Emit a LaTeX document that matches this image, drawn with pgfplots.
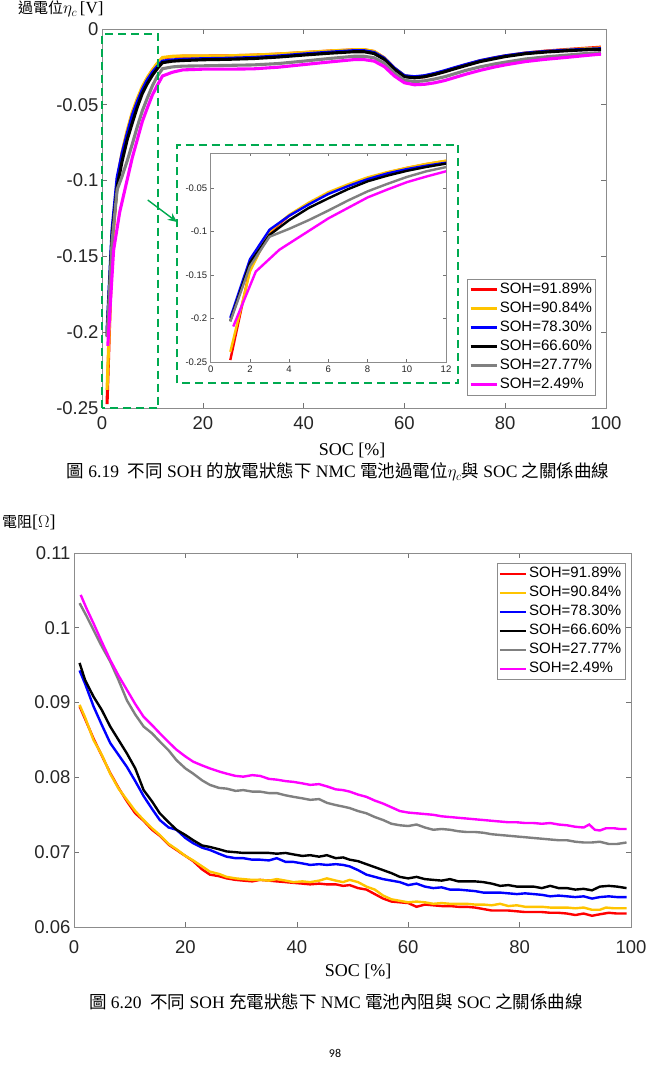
\documentclass[border=0pt]{standalone}
\usepackage{fontspec}
\setmainfont{Liberation Serif}
\newfontfamily\cjk{Noto Sans CJK TC}
\newfontfamily\arial{Liberation Sans}
\newfontfamily\calibri{Carlito}
\usepackage{pgfplots}
\usepackage{pgfplotstable}
\pgfplotsset{compat=1.18}
\usetikzlibrary{arrows.meta}

\definecolor{mred}{RGB}{255,0,0}
\definecolor{myel}{RGB}{255,196,0}
\definecolor{mblue}{RGB}{0,0,255}
\definecolor{mgray}{RGB}{128,128,128}
\definecolor{mmag}{RGB}{255,0,255}
\definecolor{mgreen}{RGB}{0,170,80}

% ---------- Fig 6.19 : overpotential vs SOC ----------
\pgfplotstableread{
x y
1 -0.2474
2 -0.143
3 -0.101
4 -0.082
5 -0.068
6 -0.056
7 -0.047
8 -0.039
9 -0.0325
10 -0.0272
11 -0.0228
12 -0.0192
14 -0.0183
16 -0.0180
20 -0.0179
25 -0.0177
30 -0.0173
35 -0.0166
40 -0.0156
45 -0.0146
50 -0.0138
52 -0.0137
54 -0.0149
56 -0.0191
58 -0.0259
60 -0.0310
62 -0.0320
64 -0.0314
66 -0.0298
68 -0.0279
70 -0.0259
72 -0.0239
75 -0.0211
78 -0.0190
80 -0.0178
84 -0.0159
88 -0.0146
92 -0.0136
96 -0.0127
99 -0.0120
}\topred
\pgfplotstableread{
x y
1 -0.238
2 -0.146
3 -0.100
4 -0.081
5 -0.067
6 -0.055
7 -0.046
8 -0.038
9 -0.032
10 -0.027
11 -0.0225
12 -0.0188
14 -0.0180
16 -0.0178
20 -0.0178
25 -0.0177
30 -0.0172
35 -0.0165
40 -0.0155
45 -0.0145
50 -0.0137
52 -0.0136
54 -0.0148
56 -0.0190
58 -0.0258
60 -0.0308
62 -0.0318
64 -0.0312
66 -0.0296
68 -0.0278
70 -0.0258
72 -0.0238
75 -0.0210
78 -0.0190
80 -0.0178
84 -0.0160
88 -0.0148
92 -0.0138
96 -0.0130
99 -0.0125
}\topyel
\pgfplotstableread{
x y
1 -0.199
2 -0.132
3 -0.098
4 -0.082
5 -0.069
6 -0.057
7 -0.048
8 -0.040
9 -0.0335
10 -0.0285
11 -0.0245
12 -0.0212
14 -0.0204
16 -0.0200
20 -0.0196
25 -0.0193
30 -0.0188
35 -0.0178
40 -0.0165
45 -0.0153
50 -0.0143
52 -0.0143
54 -0.0155
56 -0.0193
58 -0.0258
60 -0.0308
62 -0.0315
64 -0.0308
66 -0.0293
68 -0.0275
70 -0.0255
72 -0.0236
75 -0.0209
78 -0.0189
80 -0.0177
84 -0.0159
88 -0.0148
92 -0.0140
96 -0.0134
99 -0.0130
}\topblue
\pgfplotstableread{
x y
1 -0.2025
2 -0.136
3 -0.104
4 -0.087
5 -0.073
6 -0.062
7 -0.0515
8 -0.0425
9 -0.036
10 -0.0305
11 -0.026
12 -0.0222
14 -0.0212
16 -0.0208
20 -0.0203
25 -0.0200
30 -0.0195
35 -0.0185
40 -0.0172
45 -0.0160
50 -0.0150
52 -0.0150
54 -0.0162
56 -0.0200
58 -0.0265
60 -0.0315
62 -0.0322
64 -0.0315
66 -0.0300
68 -0.0282
70 -0.0262
72 -0.0243
75 -0.0215
78 -0.0195
80 -0.0182
84 -0.0163
88 -0.0152
92 -0.0144
96 -0.0137
99 -0.0134
}\topblack
\pgfplotstableread{
x y
1 -0.2033
2 -0.140
3 -0.106
4 -0.097
5 -0.087
6 -0.076
7 -0.0645
8 -0.054
9 -0.0455
10 -0.0375
11 -0.031
12 -0.0262
14 -0.0250
16 -0.0245
20 -0.0243
25 -0.0240
30 -0.0237
35 -0.0228
40 -0.0212
45 -0.0195
50 -0.0180
52 -0.0180
54 -0.0190
56 -0.0225
58 -0.0290
60 -0.0338
62 -0.0347
64 -0.0342
66 -0.0330
68 -0.0315
70 -0.0295
72 -0.0275
75 -0.0250
78 -0.0230
80 -0.0219
84 -0.0198
88 -0.0184
92 -0.0173
96 -0.0162
99 -0.0156
}\topgray
\pgfplotstableread{
x y
1.15 -0.209
2.3 -0.146
3.5 -0.121
4.7 -0.1037
6 -0.085
7 -0.073
8 -0.061
9 -0.052
10 -0.0435
11 -0.037
12 -0.031
14 -0.0285
16 -0.0270
20 -0.0265
25 -0.0265
30 -0.0263
35 -0.0252
40 -0.0235
45 -0.0218
50 -0.0202
52 -0.0202
54 -0.0212
56 -0.0248
58 -0.0310
60 -0.0355
62 -0.0368
64 -0.0365
66 -0.0355
68 -0.0340
70 -0.0320
72 -0.0300
75 -0.0273
78 -0.0250
80 -0.0237
84 -0.0215
88 -0.0200
92 -0.0188
96 -0.0175
99 -0.0166
}\topmag

% ---------- Fig 6.20 : resistance vs SOC ----------
\pgfplotstableread{
x y
1 0.0895
2 0.0878
3.5 0.0852
5 0.0829
6.5 0.0806
8 0.0786
9.5 0.0768
11 0.0752
12.5 0.0742
14 0.0730
15.4 0.0722
17 0.0710
18.4 0.0703
20 0.0695
21.4 0.0688
23 0.0677
24.4 0.0670
26 0.0668
27.4 0.0665
29 0.0663
30.4 0.0662
32 0.0661
33.4 0.0663
35 0.0662
36.4 0.0661
38 0.0660
39.4 0.0659
41 0.0658
42.4 0.0657
44 0.0658
45.4 0.0657
47 0.0657
48.3 0.0655
49.5 0.0656
51 0.0652
52.5 0.0650
54 0.0644
55.5 0.0638
57 0.0634
58.5 0.0633
60 0.0632
61.5 0.0627
63 0.0630
64.5 0.0629
66 0.0628
67.5 0.0628
69 0.0627
70.5 0.0627
72 0.0626
73.5 0.0624
75 0.0622
76.5 0.0622
78 0.0622
79.5 0.0621
81 0.0620
82.5 0.0620
84 0.0620
85.5 0.0619
87 0.0619
88.5 0.0618
90 0.0616
91.5 0.0618
93 0.0615
94.4 0.0617
96 0.0619
97.5 0.0618
99.2 0.0618
}\botred
\pgfplotstableread{
x y
1 0.0897
2 0.0880
3.5 0.0850
5 0.0830
6.5 0.0805
8 0.0785
9.5 0.0770
11 0.0755
12.5 0.0743
14 0.0732
15.4 0.0723
17 0.0711
18.4 0.0704
20 0.0695
21.4 0.0689
23 0.0681
24.4 0.0674
26 0.0671
27.4 0.0667
29 0.0665
30.4 0.0664
32 0.0663
33.4 0.0663
35 0.0662
36.4 0.0664
38 0.0662
39.4 0.0660
41 0.0661
42.4 0.0660
44 0.0662
45.4 0.0665
47 0.0662
48.3 0.0660
49.5 0.0663
51 0.0660
52.5 0.0654
54 0.0650
55.5 0.0642
57 0.0637
58.5 0.0635
60 0.0633
61.5 0.0634
63 0.0633
64.5 0.0631
66 0.0632
67.5 0.0631
69 0.0631
70.5 0.0631
72 0.0630
73.5 0.0630
75 0.0629
76.5 0.0631
78 0.0628
79.5 0.0629
81 0.0627
82.5 0.0627
84 0.0627
85.5 0.0626
87 0.0626
88.5 0.0626
90 0.0625
91.5 0.0626
93 0.0623
94.4 0.0623
95.5 0.0626
97 0.0625
99.2 0.0625
}\botyel
\pgfplotstableread{
x y
1 0.0943
2 0.0925
3.5 0.0895
5 0.0870
6.5 0.0846
8 0.0830
9.5 0.0814
11 0.0795
12.5 0.0775
14 0.0758
15.4 0.0743
17 0.0733
18.4 0.0730
20 0.0719
21.4 0.0712
23 0.0706
24.4 0.0703
26 0.0698
27.4 0.0694
29 0.0692
30.4 0.0692
32 0.0690
33.4 0.0690
35 0.0689
36.4 0.0692
38 0.0687
39.4 0.0687
41 0.0685
42.4 0.0683
44 0.0684
45.4 0.0683
47 0.0684
48.3 0.0683
49.5 0.0681
51 0.0676
52.5 0.0670
54 0.0667
55.5 0.0664
57 0.0662
58.5 0.0660
60 0.0656
61.5 0.0658
63 0.0654
64.5 0.0652
66 0.0653
67.5 0.0650
69 0.0650
70.5 0.0649
72 0.0648
73.5 0.0646
75 0.0646
76.5 0.0646
78 0.0645
79.5 0.0644
81 0.0645
82.5 0.0644
84 0.0643
85.5 0.0641
87 0.0642
88.5 0.0641
90 0.0640
91.5 0.0641
93 0.0638
94.4 0.0640
96 0.0641
97.5 0.0640
99.2 0.0640
}\botblue
\pgfplotstableread{
x y
1 0.0953
2 0.0930
3.5 0.0908
5 0.0890
6.5 0.0868
8 0.0850
9.5 0.0832
11 0.0812
12.5 0.0783
14 0.0768
15.4 0.0752
17 0.0740
18.4 0.0730
20 0.0723
21.4 0.0716
23 0.0709
24.4 0.0707
26 0.0704
27.4 0.0701
29 0.0700
30.4 0.0699
32 0.0699
33.4 0.0699
35 0.0699
36.4 0.0698
38 0.0699
39.4 0.0697
41 0.0695
42.4 0.0696
44 0.0694
45.4 0.0696
47 0.0692
48.3 0.0693
49.5 0.0690
51 0.0688
52.5 0.0684
54 0.0680
55.5 0.0676
57 0.0672
58.5 0.0667
60 0.0665
61.5 0.0667
63 0.0664
64.5 0.0663
66 0.0662
67.5 0.0664
69 0.0661
70.5 0.0661
72 0.0661
73.5 0.0660
75 0.0658
76.5 0.0655
78 0.0656
79.5 0.0654
81 0.0654
82.5 0.0654
84 0.0652
85.5 0.0655
87 0.0652
88.5 0.0652
90 0.0650
91.5 0.0651
93 0.0649
94.4 0.0654
96 0.0655
97.5 0.0654
99.2 0.0652
}\botblack
\pgfplotstableread{
x y
1 0.1033
2.3 0.1015
3.5 0.0997
5 0.0975
6.5 0.0955
8 0.0930
9.5 0.0903
11 0.0884
12.5 0.0868
14 0.0859
15.4 0.0848
17 0.0836
18.4 0.0823
20 0.0812
21.4 0.0805
23 0.0796
24.4 0.0790
26 0.0786
27.4 0.0785
29 0.0782
30.4 0.0783
32 0.0781
33.4 0.0781
35 0.0779
36.4 0.0779
38 0.0776
39.4 0.0774
41 0.0772
42.4 0.0770
44 0.0771
45.4 0.0766
47 0.0763
48.3 0.0761
49.5 0.0759
51 0.0755
52.5 0.0752
54 0.0747
55.5 0.0743
57 0.0738
58.5 0.0736
60 0.0735
61.5 0.0737
63 0.0733
64.5 0.0730
66 0.0731
67.5 0.0730
69 0.0728
70.5 0.0727
72 0.0727
73.5 0.0726
75 0.0724
76.5 0.0723
78 0.0722
79.5 0.0721
81 0.0720
82.5 0.0719
84 0.0718
85.5 0.0717
87 0.0716
88.5 0.0716
90 0.0714
91.5 0.0713
93 0.0713
94.4 0.0714
96 0.0711
97.5 0.0711
99.2 0.0713
}\botgray
\pgfplotstableread{
x y
1.2 0.1044
2.3 0.1025
3.5 0.1006
5 0.0981
6.5 0.0957
8 0.0936
9.5 0.0917
11 0.0898
12.5 0.0881
14 0.0870
15.4 0.0859
17 0.0847
18.4 0.0837
20 0.0828
21.4 0.0821
23 0.0816
24.4 0.0812
26 0.0808
27.4 0.0805
29 0.0802
30.4 0.0801
32 0.0803
33.4 0.0802
35 0.0798
36.4 0.0797
38 0.0795
39.4 0.0794
41 0.0792
42.4 0.0790
44 0.0791
45.4 0.0788
47 0.0784
48.3 0.0783
49.5 0.0781
51 0.0777
52.5 0.0774
54 0.0769
55.5 0.0765
57 0.0760
58.5 0.0755
60 0.0753
61.5 0.0752
63 0.0751
64.5 0.0750
66 0.0748
67.5 0.0747
69 0.0746
70.5 0.0745
72 0.0744
73.5 0.0743
75 0.0742
76.5 0.0741
78 0.0740
79.5 0.0740
81 0.0739
82.5 0.0739
84 0.0738
85.5 0.0739
87 0.0737
88.5 0.0736
90 0.0734
91.5 0.0733
92.5 0.0737
93.5 0.0730
94.4 0.0729
95.5 0.0732
97 0.0732
98 0.0731
99.2 0.0731
}\botmag

\pgfplotsset{
  mat/.style={
    scale only axis,
    axis line style={black!45, line width=0.6pt},
    tick style={black!55, line width=0.6pt},
    major tick length=5pt,
    tick label style={font=\arial\fontsize{18.5}{20}\selectfont, text=black!85},
    /pgf/number format/assume math mode=true,
    scaled ticks=false,
    axis background/.style={fill=white},
  },
  mleg/.style={
    legend cell align=left,
    legend image code/.code={\draw[##1, line width=2.6pt] (0pt,0pt) -- (26pt,0pt);},
    legend style={draw=black!45, line width=0.6pt, fill=white,
      font=\arial\fontsize{15}{17}\selectfont,
      inner xsep=1.5pt, inner ysep=1pt, row sep=0pt,
      nodes={inner sep=2pt, text height=11.5pt, text depth=3.5pt}},
  },
}

\begin{document}
\begin{tikzpicture}[x=1pt,y=1pt]
\useasboundingbox (0,0) rectangle (648,1067);

% ===== top main axis =====
\begin{axis}[mat, mleg, at={(102pt,659pt)}, anchor=south west,
  width=504pt, height=379pt,
  xmin=0, xmax=100, ymin=-0.25, ymax=0,
  xtick={0,20,40,60,80,100},
  ytick={-0.25,-0.2,-0.15,-0.1,-0.05,0},
  yticklabels={-0.25,-0.2,-0.15,-0.1,-0.05,0},
  xticklabel style={yshift=-5pt},
  legend style={at={(0.725,0.3404)}, anchor=north west},
]
\addplot[mred, line width=3.1pt] table {\topred};
\addplot[myel, line width=3.1pt] table {\topyel};
\addplot[mblue, line width=3.1pt] table {\topblue};
\addplot[black, line width=3.1pt] table {\topblack};
\addplot[mgray, line width=3.1pt] table {\topgray};
\addplot[mmag, line width=3.1pt] table {\topmag};
\legend{SOH=91.89\%,SOH=90.84\%,SOH=78.30\%,SOH=66.60\%,SOH=27.77\%,SOH=2.49\%}
\end{axis}

% ===== inset axis =====
\begin{axis}[mat, at={(210.7pt,704.7pt)}, anchor=south west,
  width=235.3pt, height=209.3pt,
  xmin=0, xmax=12, ymin=-0.25, ymax=-0.01,
  xtick={0,2,4,6,8,10,12},
  ytick={-0.25,-0.2,-0.15,-0.1,-0.05},
  yticklabels={-0.25,-0.2,-0.15,-0.1,-0.05},
  major tick length=3pt,
  tick label style={font=\arial\fontsize{9.5}{11}\selectfont, text=black!85},
]
\addplot[mred, line width=2.4pt] table {\topred};
\addplot[myel, line width=2.4pt] table {\topyel};
\addplot[mblue, line width=2.4pt] table {\topblue};
\addplot[black, line width=2.4pt] table {\topblack};
\addplot[mgray, line width=2.4pt] table {\topgray};
\addplot[mmag, line width=2.4pt] table {\topmag};
\end{axis}

% green annotations
\draw[mgreen, line width=2.2pt, dash pattern=on 8pt off 5pt] (102,659) rectangle (158.3,1033);
\draw[mgreen, line width=2.2pt, dash pattern=on 8pt off 5pt] (177.3,683.7) rectangle (458.3,922.3);
\draw[mgreen, line width=1.4pt, -{Stealth[length=9pt,width=8pt]}] (147.7,867) -- (177,845);

% labels fig 6.19
\node[anchor=base west, inner sep=0pt] at (18,1053) {{\cjk\fontsize{15}{17}\selectfont 過電位}{\fontsize{17}{19}\selectfont$\eta_c$\,[V]}};
\node[anchor=center, inner sep=0pt] at (352,617) {\fontsize{18}{20}\selectfont SOC [\%]};
\node[anchor=center, inner sep=0pt] at (338,595) {\fontsize{17.5}{20}\selectfont{\cjk 圖} 6.19\ \ {\cjk 不同} SOH {\cjk 的放電狀態下} NMC {\cjk 電池過電位}$\eta_c${\cjk 與} SOC {\cjk 之關係曲線}};

% ===== bottom axis =====
\begin{axis}[mat, mleg, at={(74pt,140pt)}, anchor=south west,
  width=557pt, height=374pt,
  xmin=0, xmax=100, ymin=0.06, ymax=0.11,
  xtick={0,20,40,60,80,100},
  ytick={0.06,0.07,0.08,0.09,0.1,0.11},
  yticklabels={0.06,0.07,0.08,0.09,0.1,0.11},
  xticklabel style={yshift=-10pt},
  legend style={at={(0.759,0.973)}, anchor=north west},
]
\addplot[mred, line width=2.4pt] table {\botred};
\addplot[myel, line width=2.4pt] table {\botyel};
\addplot[mblue, line width=2.4pt] table {\botblue};
\addplot[black, line width=2.4pt] table {\botblack};
\addplot[mgray, line width=2.4pt] table {\botgray};
\addplot[mmag, line width=2.4pt] table {\botmag};
\legend{SOH=91.89\%,SOH=90.84\%,SOH=78.30\%,SOH=66.60\%,SOH=27.77\%,SOH=2.49\%}
\end{axis}

% labels fig 6.20
\node[anchor=base west, inner sep=0pt] at (2,539) {{\cjk\fontsize{15}{17}\selectfont 電阻}{\fontsize{18}{20}\selectfont[$\Omega$]}};
\node[anchor=center, inner sep=0pt] at (358,96) {\fontsize{18}{20}\selectfont SOC [\%]};
\node[anchor=center, inner sep=0pt] at (336,65) {\fontsize{17.5}{20}\selectfont{\cjk 圖} 6.20\ \ {\cjk 不同} SOH {\cjk 充電狀態下} NMC {\cjk 電池內阻與} SOC {\cjk 之關係曲線}};
\node[anchor=center, inner sep=0pt] at (335,14) {\calibri\fontsize{12}{14}\selectfont 98};
\end{tikzpicture}
\end{document}
